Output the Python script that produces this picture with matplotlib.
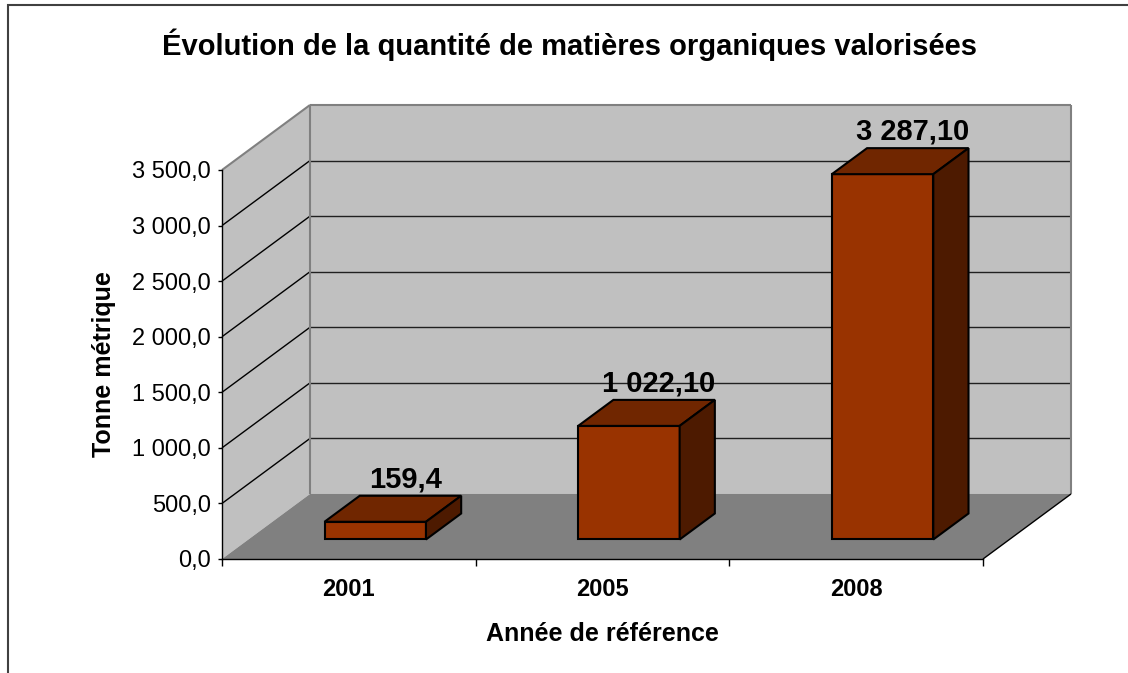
import matplotlib
matplotlib.use('Agg')
import matplotlib.pyplot as plt
from matplotlib.patches import Polygon, Rectangle

plt.rcParams['font.family'] = ['Liberation Sans', 'DejaVu Sans']

years = ['2001', '2005', '2008']
tonnes = [159.4, 1022.1, 3287.1]
value_labels = ['159,4', '1 022,10', '3 287,10']
yticks = [0, 500, 1000, 1500, 2000, 2500, 3000, 3500]
ytick_labels = ['0,0', '500,0', '1 000,0', '1 500,0', '2 000,0',
                '2 500,0', '3 000,0', '3 500,0']
title = 'Évolution de la quantité de matières organiques valorisées'
xlabel = 'Année de référence'
ylabel = 'Tonne métrique'

ymax = yticks[-1]
ncat = len(years)

# fake 3d: shift of the back plane, in data units
DX = 0.347
DY = 585.0


def proj(x, v, d):
    return (x + d * DX, v + d * DY)


fig = plt.figure(figsize=(11.28, 6.73), dpi=100)
ax = fig.add_axes([222 / 1128, 114 / 673, 761 / 1128, 389 / 673])
ax.set_xlim(0, ncat)
ax.set_ylim(0, ymax)
ax.patch.set_visible(False)


def face(pts, fc, ec='none', lw=0, z=1):
    p = Polygon([proj(*q) for q in pts], closed=True, facecolor=fc,
                edgecolor=ec, linewidth=lw, zorder=z, clip_on=False)
    ax.add_patch(p)


def line(p0, p1, c='black', lw=1.0, z=1.5):
    a = proj(*p0)
    b = proj(*p1)
    ax.plot([a[0], b[0]], [a[1], b[1]], color=c, lw=lw, zorder=z,
            clip_on=False, solid_capstyle='butt')


# walls and floor
face([(0, 0, 0), (0, 0, 1), (0, ymax, 1), (0, ymax, 0)], '#c0c0c0')
face([(0, 0, 1), (ncat, 0, 1), (ncat, ymax, 1), (0, ymax, 1)], '#c0c0c0')
face([(0, 0, 0), (ncat, 0, 0), (ncat, 0, 1), (0, 0, 1)], '#808080')

# gridlines
for v in yticks[1:-1]:
    line((0, v, 0), (0, v, 1))
    line((0, v, 1), (ncat, v, 1), c='#202020')

# wall edges
line((0, ymax, 0), (0, ymax, 1), c='#808080', lw=1.5)
line((0, ymax, 1), (ncat, ymax, 1), c='#808080', lw=1.5)
line((0, 0, 1), (0, ymax, 1), c='#808080', lw=1.5)
line((ncat, 0, 1), (ncat, ymax, 1), c='#808080', lw=1.5)
line((ncat, 0, 0), (ncat, 0, 1), c='black', lw=1.0)

# bars
w = 0.4
d0, d1 = 0.3, 0.7
for i, v in enumerate(tonnes):
    x0 = i + 0.5 - w / 2
    x1 = i + 0.5 + w / 2
    face([(x0, 0, d0), (x1, 0, d0), (x1, v, d0), (x0, v, d0)], '#993300', 'black', 1.5, 3)
    face([(x0, v, d0), (x1, v, d0), (x1, v, d1), (x0, v, d1)], '#702600', 'black', 1.5, 3)
    face([(x1, 0, d0), (x1, 0, d1), (x1, v, d1), (x1, v, d0)], '#4d1a00', 'black', 1.5, 3)
    ax.annotate(value_labels[i], xy=proj(i + 0.5, v, 0.5), xytext=(9, 21),
                textcoords='offset points', ha='center', va='center',
                fontsize=21, fontweight='bold', zorder=4,
                annotation_clip=False)

# axes
for s in ['top', 'right']:
    ax.spines[s].set_visible(False)
for s in ['left', 'bottom']:
    ax.spines[s].set_color('black')
    ax.spines[s].set_linewidth(1.0)
    ax.spines[s].set_zorder(2)

ax.set_yticks(yticks, ytick_labels)
ax.tick_params(axis='y', direction='out', length=3, width=1, pad=5, labelsize=17)
ax.set_xticks(range(ncat + 1), [''] * (ncat + 1))
ax.tick_params(axis='x', which='major', direction='out', length=5, width=1)
ax.set_xticks([i + 0.5 for i in range(ncat)], years, minor=True)
ax.tick_params(axis='x', which='minor', length=0, pad=14, labelsize=17)
for t in ax.get_xticklabels(minor=True):
    t.set_fontweight('bold')

ax.set_xlabel(xlabel, fontsize=18, fontweight='bold')
ax.xaxis.set_label_coords(0.5, -0.163)
ax.set_ylabel(ylabel, fontsize=18, fontweight='bold')
ax.yaxis.set_label_coords(-0.139, 0.5)

fig.text(570 / 1128, 1 - 45 / 673, title, ha='center', va='center',
         fontsize=21, fontweight='bold')

# chart frame
fig.add_artist(Rectangle((8 / 1128, -0.05), 1.2, 1 - 5 / 673 + 0.05,
                         transform=fig.transFigure, fill=False,
                         edgecolor='#404040', lw=1.5))

fig.savefig('out.png', dpi=100)
